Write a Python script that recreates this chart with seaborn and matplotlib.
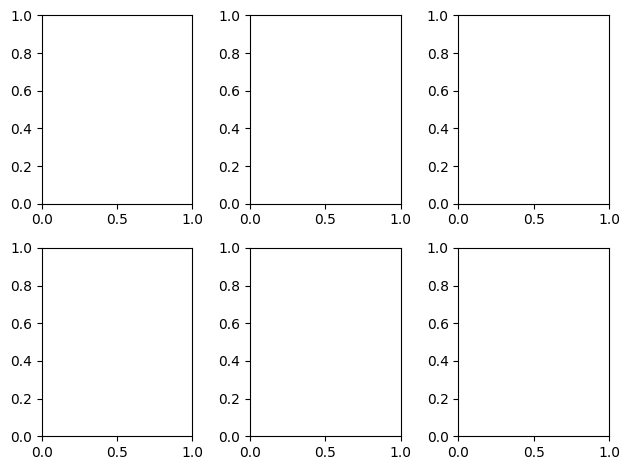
import numpy as np
import matplotlib
matplotlib.use("Agg")
import matplotlib.pyplot as plt
import seaborn as sns

# empty grid of axes, default 0..1 limits
n_rows = 2
n_cols = 3
x_limits = [0.0, 1.0]
y_limits = [0.0, 1.0]

fig, axes = plt.subplots(n_rows, n_cols, figsize=(6.4, 4.8), dpi=100)
for ax in axes.flat:
    ax.set_xlim(x_limits)
    ax.set_ylim(y_limits)
plt.tight_layout()
plt.savefig("out.png", dpi=100, bbox_inches="tight")
